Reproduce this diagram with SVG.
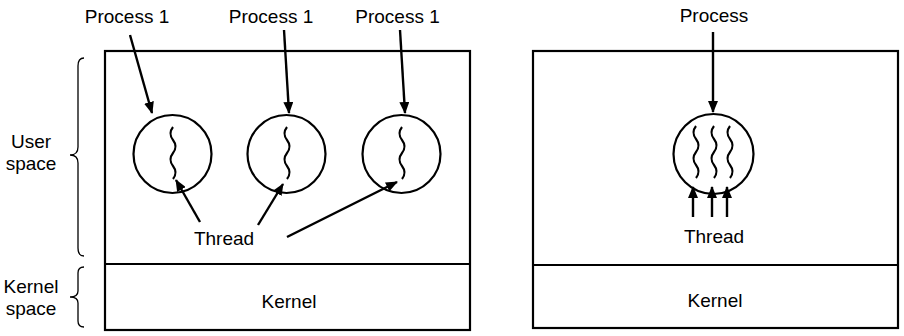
<svg xmlns="http://www.w3.org/2000/svg" width="904" height="336" viewBox="0 0 904 336">
  <style>
    .box { fill: none; stroke: #000; stroke-width: 2.2; }
    .proc { fill: #fff; stroke: #000; stroke-width: 2.2; }
    .wave { fill: none; stroke: #000; stroke-width: 2.1; }
    .arrow { fill: none; stroke: #000; stroke-width: 2.4; marker-end: url(#head); }
    .brace { fill: none; stroke: #000; stroke-width: 1.3; }
    text { font-family: "Liberation Sans", Arial, sans-serif; font-size: 19px; fill: #000; text-anchor: middle; }
  </style>
  <defs>
    <marker id="head" markerUnits="userSpaceOnUse" viewBox="0 0 12 10" refX="11" refY="5" markerWidth="12" markerHeight="10" orient="auto">
      <path d="M0,0 L12,5 L0,10 Z" fill="#000"/>
    </marker>
    <!-- a thread drawn as a short wavy vertical line -->
    <path id="thread" class="wave" d="M0,0 q -5,6.5 0,13 t 0,13 t 0,13 t 0,13"/>
  </defs>

  <!-- side labels with braces -->
  <g id="user-space">
    <text x="31" y="148">User</text>
    <text x="31" y="170">space</text>
    <path class="brace" d="M84,58 Q78,58 78,66 L78,147 Q78,155 70,155 Q78,155 78,163 L78,248 Q78,256 84,256"/>
  </g>
  <g id="kernel-space">
    <text x="31" y="293">Kernel</text>
    <text x="31" y="315">space</text>
    <path class="brace" d="M84,267 Q78,267 78,273 L78,291 Q78,297 70,297 Q78,297 78,303 L78,321 Q78,327 84,327"/>
  </g>

  <!-- left: three single-threaded processes -->
  <g id="left-system">
    <rect class="box" x="105" y="51" width="365" height="279"/>
    <line class="box" x1="105" y1="264" x2="470" y2="264"/>
    <text x="289" y="308">Kernel</text>
  </g>
  <g id="process-a">
    <text x="127" y="23">Process 1</text>
    <circle class="proc" cx="172.5" cy="154" r="39"/>
    <use href="#thread" x="173" y="127"/>
  </g>
  <g id="process-b">
    <text x="271" y="23">Process 1</text>
    <circle class="proc" cx="286.5" cy="154" r="39"/>
    <use href="#thread" x="287" y="127"/>
  </g>
  <g id="process-c">
    <text x="397.5" y="23">Process 1</text>
    <circle class="proc" cx="401.5" cy="154" r="39"/>
    <use href="#thread" x="402" y="127"/>
  </g>
  <g id="thread-label-left">
    <text x="224" y="245">Thread</text>
  </g>

  <!-- right: one multithreaded process -->
  <g id="right-system">
    <rect class="box" x="533" y="51" width="365" height="277"/>
    <line class="box" x1="533" y1="265" x2="898" y2="265"/>
    <text x="715" y="307">Kernel</text>
  </g>
  <g id="process-multi">
    <text x="714" y="22">Process</text>
    <circle class="proc" cx="713.5" cy="154" r="40"/>
    <use href="#thread" x="696" y="126"/>
    <use href="#thread" x="714" y="126"/>
    <use href="#thread" x="730" y="126"/>
  </g>
  <g id="thread-label-right">
    <text x="714" y="243">Thread</text>
  </g>

  <!-- connectors -->
  <g id="connectors">
    <line class="arrow" x1="130" y1="35" x2="152" y2="113"/>
    <line class="arrow" x1="284" y1="30" x2="289" y2="113"/>
    <line class="arrow" x1="400" y1="30" x2="405" y2="113"/>
    <line class="arrow" x1="713" y1="32" x2="713" y2="112"/>
    <line class="arrow" x1="200" y1="222" x2="176" y2="180"/>
    <line class="arrow" x1="258" y1="225" x2="283" y2="184"/>
    <line class="arrow" x1="287" y1="237" x2="397" y2="182"/>
    <line class="arrow" x1="693" y1="217" x2="693" y2="187"/>
    <line class="arrow" x1="712" y1="217" x2="712" y2="187"/>
    <line class="arrow" x1="727" y1="217" x2="727" y2="187"/>
  </g>
</svg>
